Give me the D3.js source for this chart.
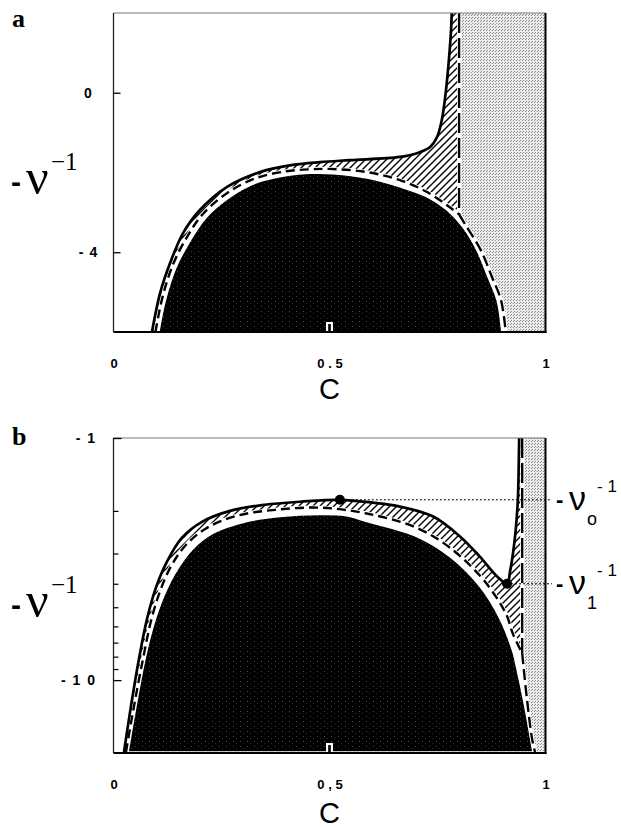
<!DOCTYPE html>
<html><head><meta charset="utf-8">
<script src="https://cdn.jsdelivr.net/npm/d3@7"></script>
<style>
html,body{margin:0;padding:0;background:#fff;}
svg{display:block;}
</style></head>
<body>
<svg id="fig" width="621" height="828"></svg>
<script>
// ---------- panel a : -1/nu (linear) against c ----------
const solidA = [[0.089,-6.0],[0.108,-5.02],[0.131,-4.27],[0.161,-3.52],[0.200,-2.94],[0.263,-2.36],[0.339,-1.99],[0.415,-1.81],[0.478,-1.74],[0.547,-1.69],[0.663,-1.61],[0.709,-1.49],[0.733,-1.36],[0.749,-1.11],[0.760,-0.68],[0.767,-0.18],[0.775,0.65],[0.781,1.5],[0.783,2]];
const blackA = [[0.105,-6],[0.12,-5.2],[0.145,-4.37],[0.178,-3.70],[0.215,-3.12],[0.27,-2.61],[0.33,-2.26],[0.405,-2.07],[0.455,-2.02],[0.508,-2.03],[0.587,-2.14],[0.663,-2.36],[0.726,-2.61],[0.772,-2.94],[0.809,-3.37],[0.841,-3.94],[0.867,-4.62],[0.888,-5.2],[0.899,-6.0]];
const dashArchA = [[0.097,-6],[0.114,-5.1],[0.138,-4.3],[0.17,-3.62],[0.207,-3.04],[0.265,-2.5],[0.33,-2.14],[0.40,-1.97],[0.455,-1.92],[0.5,-1.91],[0.587,-1.99],[0.663,-2.19],[0.726,-2.49],[0.772,-2.82],[0.80,-3.05]];
const dashTailA = [[0.80,-3.05],[0.818,-3.37],[0.85,-3.94],[0.876,-4.62],[0.897,-5.2],[0.908,-6.0]];
const dashVertA = [[0.80,2],[0.80,-3.05]];
const yTicksA = [0,-4];
const yTickLabelsA = ["0","- 4"];

// ---------- panel b : -1/nu (log) against c ----------
const solidB = [[0.0243,19.8],[0.0405,12.8],[0.059,8.17],[0.0775,5.6],[0.0984,4.14],[0.1238,3.24],[0.1586,2.58],[0.2049,2.22],[0.2697,2.0],[0.3507,1.887],[0.4317,1.834],[0.524,1.8],[0.6,1.85],[0.663,1.92],[0.74,2.11],[0.802,2.55],[0.848,3.09],[0.888,3.73],[0.911,4.0],[0.918,3.55],[0.925,2.97],[0.931,2.4],[0.936,1.8],[0.938,1.3],[0.939,1.0]];
const blackB = [[0.0336,19.8],[0.052,12.8],[0.0729,8.17],[0.0938,5.83],[0.1169,4.47],[0.1447,3.56],[0.1817,2.89],[0.2326,2.46],[0.3044,2.22],[0.3854,2.11],[0.478,2.07],[0.536,2.09],[0.586,2.21],[0.702,2.55],[0.779,3.09],[0.848,4.1],[0.895,5.6],[0.925,7.68],[0.9317,8.6],[0.952,12.8],[0.971,19.8]];
const dashArchB = [[0.0289,19.8],[0.0475,12.8],[0.0683,8.17],[0.0868,5.7],[0.1076,4.3],[0.133,3.39],[0.168,2.76],[0.2164,2.35],[0.288,2.09],[0.374,1.98],[0.478,1.94],[0.586,2.05],[0.702,2.35],[0.779,2.84],[0.848,3.7],[0.888,4.6],[0.911,5.45],[0.925,6.47],[0.946,7.74]];
const dashTailB = [[0.946,7.74],[0.957,11.94],[0.969,17.5],[0.9757,19.8]];
const dashVertB = [[0.946,1],[0.946,7.74]];
const markedB = [{c:0.524, v:1.8, sub:"o"}, {c:0.911, v:4.0, sub:"1"}];
const yMajorB = [1,10];
const yMajorLabelsB = ["- 1","- 1 0"];
const yMinorB = [2,3,4,5,6,7,8,9];

const xTicks = [0,0.5,1];
const xTickLabelsA = ["0","0 . 5","1"];
const xTickLabelsB = ["0","0 , 5","1"];

const svg = d3.select("#fig");
const defs = svg.append("defs");

// diagonal hatching
const hp = defs.append("pattern").attr("id","hatch").attr("patternUnits","userSpaceOnUse")
  .attr("width",7).attr("height",7);
hp.append("rect").attr("width",7).attr("height",7).attr("fill","#fff");
hp.append("path").attr("d","M0,7L7,0M-1,1L1,-1M6,8L8,6").attr("stroke","#000").attr("stroke-width",1.4);

// light stipple
const sp = defs.append("pattern").attr("id","stipple").attr("patternUnits","userSpaceOnUse")
  .attr("width",3).attr("height",3);
sp.append("rect").attr("width",3).attr("height",3).attr("fill","#ececec");
sp.append("rect").attr("x",0).attr("y",0).attr("width",1).attr("height",1).attr("fill","#8a8a8a");
sp.append("rect").attr("x",1).attr("y",2).attr("width",1).attr("height",1).attr("fill","#8a8a8a");

// dark fill with faint speckle
const ip = defs.append("pattern").attr("id","ink").attr("patternUnits","userSpaceOnUse")
  .attr("width",7).attr("height",5);
ip.append("rect").attr("width",7).attr("height",5).attr("fill","#000");
ip.append("rect").attr("x",2).attr("y",1).attr("width",1).attr("height",1).attr("fill","#4a4a4a");
ip.append("rect").attr("x",5).attr("y",3).attr("width",1).attr("height",1).attr("fill","#2e2e2e");

const X0 = 113.5, X1 = 545.5;
const SANS = "'Liberation Sans', Arial, sans-serif";
const SERIF = "'Liberation Serif', 'Times New Roman', serif";

function panel(cfg){
  const {id, y, yTop, yBot, data} = cfg;
  const x = d3.scaleLinear().domain([0,1]).range([X0,X1]);
  const g = svg.append("g");
  defs.append("clipPath").attr("id","clip"+id).append("rect")
    .attr("x",X0).attr("y",yTop).attr("width",X1-X0).attr("height",yBot-yTop);
  const body = g.append("g").attr("clip-path",`url(#clip${id})`);
  const line = d3.line().x(d=>x(d[0])).y(d=>y(d[1])).curve(d3.curveCatmullRom.alpha(0.5));
  const straight = d3.line().x(d=>x(d[0])).y(d=>y(d[1]));
  const join = (...parts) => parts.map((p,i)=> i===0 ? p : p.replace(/^M/,"L")).join("") + "Z";
  const [dTop, dBot] = y.domain();
  const vx = data.vert[0][0];

  // hatched band between the solid boundary and the dashed boundary
  body.append("path")
    .attr("d", join(line(data.solid), straight(data.vert), line(data.arch.slice().reverse())))
    .attr("fill","url(#hatch)");
  // inside the dashed boundary
  body.append("path")
    .attr("d", join(line(data.arch), line(data.tail)))
    .attr("fill","#fff");
  // stippled strip
  body.append("path")
    .attr("d", join(straight([[vx,dTop],[1,dTop],[1,dBot],[data.tail[data.tail.length-1][0],dBot]]),
                    line(data.tail.slice().reverse())))
    .attr("fill","url(#stipple)");
  // dark region
  body.append("path")
    .attr("d", line(data.black) + "Z")
    .attr("fill","url(#ink)").attr("stroke","#fff").attr("stroke-width",1.6);

  // dashed boundary with white casing
  const dashed = [[line(data.arch), "9,5"], [line(data.tail), "11,5"], [straight(data.vert), "20,5"]];
  dashed.forEach(([d]) => body.append("path").attr("d",d).attr("fill","none")
    .attr("stroke","#fff").attr("stroke-width",4));
  dashed.forEach(([d,dash]) => body.append("path").attr("d",d).attr("fill","none")
    .attr("stroke","#000").attr("stroke-width",2.4).attr("stroke-dasharray",dash));

  // solid boundary
  body.append("path").attr("d", line(data.solid)).attr("fill","none")
    .attr("stroke","#000").attr("stroke-width",2.7);

  // frame
  g.append("line").attr("x1",X0).attr("x2",X1).attr("y1",yTop).attr("y2",yTop)
    .attr("stroke","#777").attr("stroke-width",1.2);
  g.append("line").attr("x1",X0).attr("x2",X0).attr("y1",yTop).attr("y2",yBot)
    .attr("stroke","#222").attr("stroke-width",1.3);
  g.append("line").attr("x1",X1).attr("x2",X1).attr("y1",yTop).attr("y2",yBot+1)
    .attr("stroke","#000").attr("stroke-width",2);
  g.append("line").attr("x1",X0).attr("x2",X1+1).attr("y1",yBot).attr("y2",yBot)
    .attr("stroke","#000").attr("stroke-width",2);

  // c axis labels
  const xa = g.append("g").attr("transform",`translate(0,${yBot})`)
    .call(d3.axisBottom(x).tickValues(xTicks).tickSize(0).tickPadding(27)
      .tickFormat((d,i)=>cfg.xLabels[i]));
  xa.select(".domain").remove();
  xa.selectAll("text").attr("font-family",SANS)
    .attr("font-weight","bold").attr("font-size",13).attr("fill","#000");

  // inward tick at c = 0.5, drawn light over the dark fill
  const tx = x(0.5);
  g.append("rect").attr("x",tx-3.5).attr("y",yBot-10).attr("width",7).attr("height",9).attr("fill","#fff");
  g.append("rect").attr("x",tx-1.3).attr("y",yBot-8).attr("width",2.6).attr("height",7).attr("fill","#000");

  g.append("text").attr("x",(X0+X1)/2).attr("y",yBot+cfg.cOffset)
    .attr("text-anchor","middle").attr("font-family",SANS)
    .attr("font-size",29).text("C");

  // y axis title  - nu^-1
  const ty = cfg.titleY;
  g.append("text").attr("x",11).attr("y",ty+3).attr("font-family",SANS)
    .attr("font-weight","bold").attr("font-size",30).text("-");
  g.append("text").attr("x",26).attr("y",ty+5).attr("font-family",SERIF)
    .attr("font-size",50).text("ν");
  g.append("text").attr("x",51).attr("y",ty-19).attr("font-family",SERIF)
    .attr("font-size",25).text("−1");

  // panel letter
  g.append("text").attr("x",12).attr("y",cfg.letterY).attr("font-family",SERIF)
    .attr("font-weight","bold").attr("font-size",26).text(id);
  return {g, x};
}

// panel a
const yA = d3.scaleLinear().domain([2,-6]).range([13,332]);
const pa = panel({id:"a", y:yA, yTop:13, yBot:332, xLabels:xTickLabelsA, cOffset:67, titleY:189, letterY:27,
  data:{solid:solidA, black:blackA, arch:dashArchA, tail:dashTailA, vert:dashVertA}});
const axA = pa.g.append("g").attr("transform",`translate(${X0},0)`)
  .call(d3.axisLeft(yA).tickValues(yTicksA).tickSize(-7).tickPadding(25)
    .tickFormat((d,i)=>yTickLabelsA[i]));
axA.select(".domain").remove();
axA.selectAll("line").attr("stroke","#000").attr("stroke-width",1.3);
axA.selectAll("text").attr("text-anchor","middle").attr("font-family",SANS)
  .attr("font-weight","bold").attr("font-size",14).attr("letter-spacing",1).attr("fill","#000");

// panel b
const yB = d3.scaleLog().domain([1,20]).range([438,753]);
const pb = panel({id:"b", y:yB, yTop:438, yBot:753, xLabels:xTickLabelsB, cOffset:70, titleY:612, letterY:445,
  data:{solid:solidB, black:blackB, arch:dashArchB, tail:dashTailB, vert:dashVertB}});
const axB = pb.g.append("g").attr("transform",`translate(${X0},0)`)
  .call(d3.axisLeft(yB).tickValues(yMajorB).tickSize(-8).tickPadding(17)
    .tickFormat((d,i)=>yMajorLabelsB[i]));
axB.select(".domain").remove();
axB.selectAll("line").attr("stroke","#000").attr("stroke-width",1.3);
axB.selectAll("text").attr("font-family",SANS)
  .attr("font-weight","bold").attr("font-size",14).attr("letter-spacing",1.5).attr("fill","#000");
const axBm = pb.g.append("g").attr("transform",`translate(${X0},0)`)
  .call(d3.axisLeft(yB).tickValues(yMinorB).tickSize(-5).tickFormat(""));
axBm.select(".domain").remove();
axBm.selectAll("line").attr("stroke","#000").attr("stroke-width",1.2);

// marked points, guide lines and their labels
markedB.forEach(m => {
  const px = pb.x(m.c), py = yB(m.v);
  pb.g.append("line").attr("x1",px).attr("x2",552).attr("y1",py).attr("y2",py)
    .attr("stroke","#000").attr("stroke-width",1).attr("stroke-dasharray","2,2");
  pb.g.append("circle").attr("cx",px).attr("cy",py).attr("r",5).attr("fill","#000");
  const lab = pb.g.append("g").attr("transform",`translate(0,${py})`);
  lab.append("text").attr("x",556).attr("y",7).attr("font-family",SANS)
    .attr("font-weight","bold").attr("font-size",22).text("-");
  lab.append("text").attr("x",569).attr("y",10).attr("font-family",SANS)
    .attr("font-size",34).text("ν");
  lab.append("text").attr("x",587).attr("y",25).attr("font-family",SANS)
    .attr("font-size",18).text(m.sub);
  lab.append("text").attr("x",597).attr("y",-8).attr("font-family",SANS)
    .attr("font-size",17).text("- 1");
});
</script>
</body></html>
